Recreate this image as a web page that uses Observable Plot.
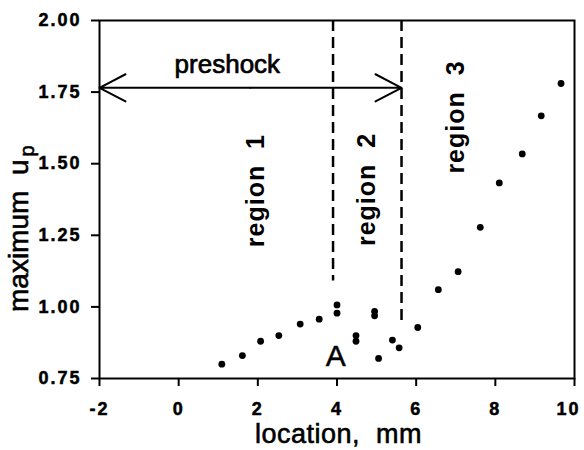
<!DOCTYPE html>
<html>
<head>
<meta charset="utf-8">
<script src="https://cdn.jsdelivr.net/npm/d3@7"></script>
<script src="https://cdn.jsdelivr.net/npm/@observablehq/plot@0.6"></script>
<style>
  html, body { margin: 0; padding: 0; background: white; }
</style>
</head>
<body>
<div id="chart"></div>
<script>
// Data
const locationMm = [1.09, 1.61, 2.07, 2.53, 3.07, 3.55, 4.0, 4.0, 4.48, 4.48, 4.95, 4.95, 5.05, 5.40, 5.57, 6.04, 6.56, 7.06, 7.62, 8.10, 8.68, 9.16, 9.66];
const maxUp      = [0.80, 0.83, 0.88, 0.90, 0.94, 0.957, 1.007, 0.978, 0.90, 0.88, 0.984, 0.969, 0.82, 0.884, 0.857, 0.928, 1.06, 1.123, 1.278, 1.433, 1.534, 1.667, 1.78];

const xTicks = [-2, 0, 2, 4, 6, 8, 10];
const yTicks = [0.75, 1.00, 1.25, 1.50, 1.75, 2.00];

// Region boundaries (dashed lines)
const boundaryX      = [3.9, 5.63];
const boundaryTop    = [2.0, 2.0];
const boundaryBottom = [1.09, 0.95];

// Preshock arrow
const preshockFrom = -2;
const preshockTo = 5.63;
const preshockLevel = 1.765;

// Annotations
const regionLabels = ["region\u00a0\u00a01", "region\u00a0\u00a02", "region\u00a0\u00a03"];
const regionX = [1.95, 4.77, 7.01];
const regionY = [1.406, 1.41, 1.663];
const preshockLabel = "preshock";
const preshockLabelX = 1.23, preshockLabelY = 1.847;
const pointLabel = "A";
const pointLabelX = 3.97, pointLabelY = 0.826;

const xLabel = "location,\u00a0\u00a0mm";

const mid = (preshockFrom + preshockTo) / 2;
const arrows = [
  {x1: mid, x2: preshockFrom, y: preshockLevel},
  {x1: mid, x2: preshockTo, y: preshockLevel}
];

const font = "'Liberation Sans', Arial, Helvetica, sans-serif";
const fmtX = d => d < 0 ? "-" + (-d) : String(d);
const fmtY = d3.format(".2f");

const chart = Plot.plot({
  width: 584,
  height: 450,
  marginLeft: 99,
  marginRight: 10,
  marginTop: 20,
  marginBottom: 72,
  style: {fontFamily: font, background: "white", color: "black"},
  x: {domain: [-2, 10]},
  y: {domain: [0.75, 2.0]},
  marks: [
    Plot.axisX({ticks: xTicks, tickSize: 8, tickPadding: 16, fontSize: 18, fontWeight: "bold", strokeWidth: 2,
      tickFormat: fmtX, label: null}),
    Plot.axisY({ticks: yTicks, tickSize: 8, tickPadding: 10, fontSize: 18, fontWeight: "bold", strokeWidth: 2,
      tickFormat: fmtY, label: null}),
    Plot.frame({stroke: "black", strokeWidth: 2}),
    Plot.ruleX(boundaryX, {x: boundaryX, y1: boundaryTop, y2: boundaryBottom,
      stroke: "black", strokeWidth: 2.5, strokeDasharray: "11,6"}),
    Plot.arrow(arrows, {x1: "x1", x2: "x2", y1: "y", y2: "y",
      stroke: "black", strokeWidth: 2, headLength: 22, headAngle: 55}),
    Plot.dot(locationMm, {x: locationMm, y: maxUp, r: 3.4, fill: "black", stroke: null}),
    Plot.text(regionLabels, {x: regionX, y: regionY, text: d => d, rotate: -90,
      fontSize: 25, fontWeight: "bold", fill: "black"}),
    Plot.text([preshockLabel], {x: preshockLabelX, y: preshockLabelY, text: d => d,
      fontSize: 26, fill: "black", stroke: "black", strokeWidth: 0.7}),
    Plot.text([pointLabel], {x: pointLabelX, y: pointLabelY, text: d => d,
      fontSize: 30, fill: "black", stroke: "black", strokeWidth: 0.5})
  ]
});

document.getElementById("chart").appendChild(chart);

const svg = d3.select(chart);
const tickTexts = new Set([...xTicks.map(fmtX), ...yTicks.map(fmtY)]);
// tick labels: heavy, widely spaced as in the reference
svg.selectAll("text").filter(function() { return tickTexts.has(this.textContent); })
  .style("font-weight", "bold")
  .style("letter-spacing", "2px")
  .attr("fill", "black")
  .attr("stroke", "black")
  .attr("stroke-width", 0.5)
  .each(function() { if (this.textContent === "10") d3.select(this).attr("dx", -6); });
// letter-spacing for region labels
svg.selectAll("text").filter(function() { return this.textContent.startsWith("region"); })
  .style("letter-spacing", "1px");

// x-axis label
const xs = chart.scale("x");
svg.append("text")
  .attr("x", xs.apply(4.05))
  .attr("y", 443)
  .attr("text-anchor", "middle")
  .attr("font-family", font)
  .attr("font-size", 27)
  .attr("fill", "black")
  .attr("stroke", "black")
  .attr("stroke-width", 0.6)
  .style("letter-spacing", "0.5px")
  .text(xLabel);

// y-axis label with subscript
const yl = svg.append("text")
  .attr("transform", "translate(28,312) rotate(-90)")
  .attr("text-anchor", "start")
  .attr("font-family", font)
  .attr("font-size", 28)
  .attr("fill", "black")
  .attr("stroke", "black")
  .attr("stroke-width", 0.6);
yl.append("tspan").text("maximum\u00a0\u00a0u");
yl.append("tspan").attr("dy", 6).attr("dx", 3).attr("font-size", 20).text("p");
</script>
</body>
</html>
